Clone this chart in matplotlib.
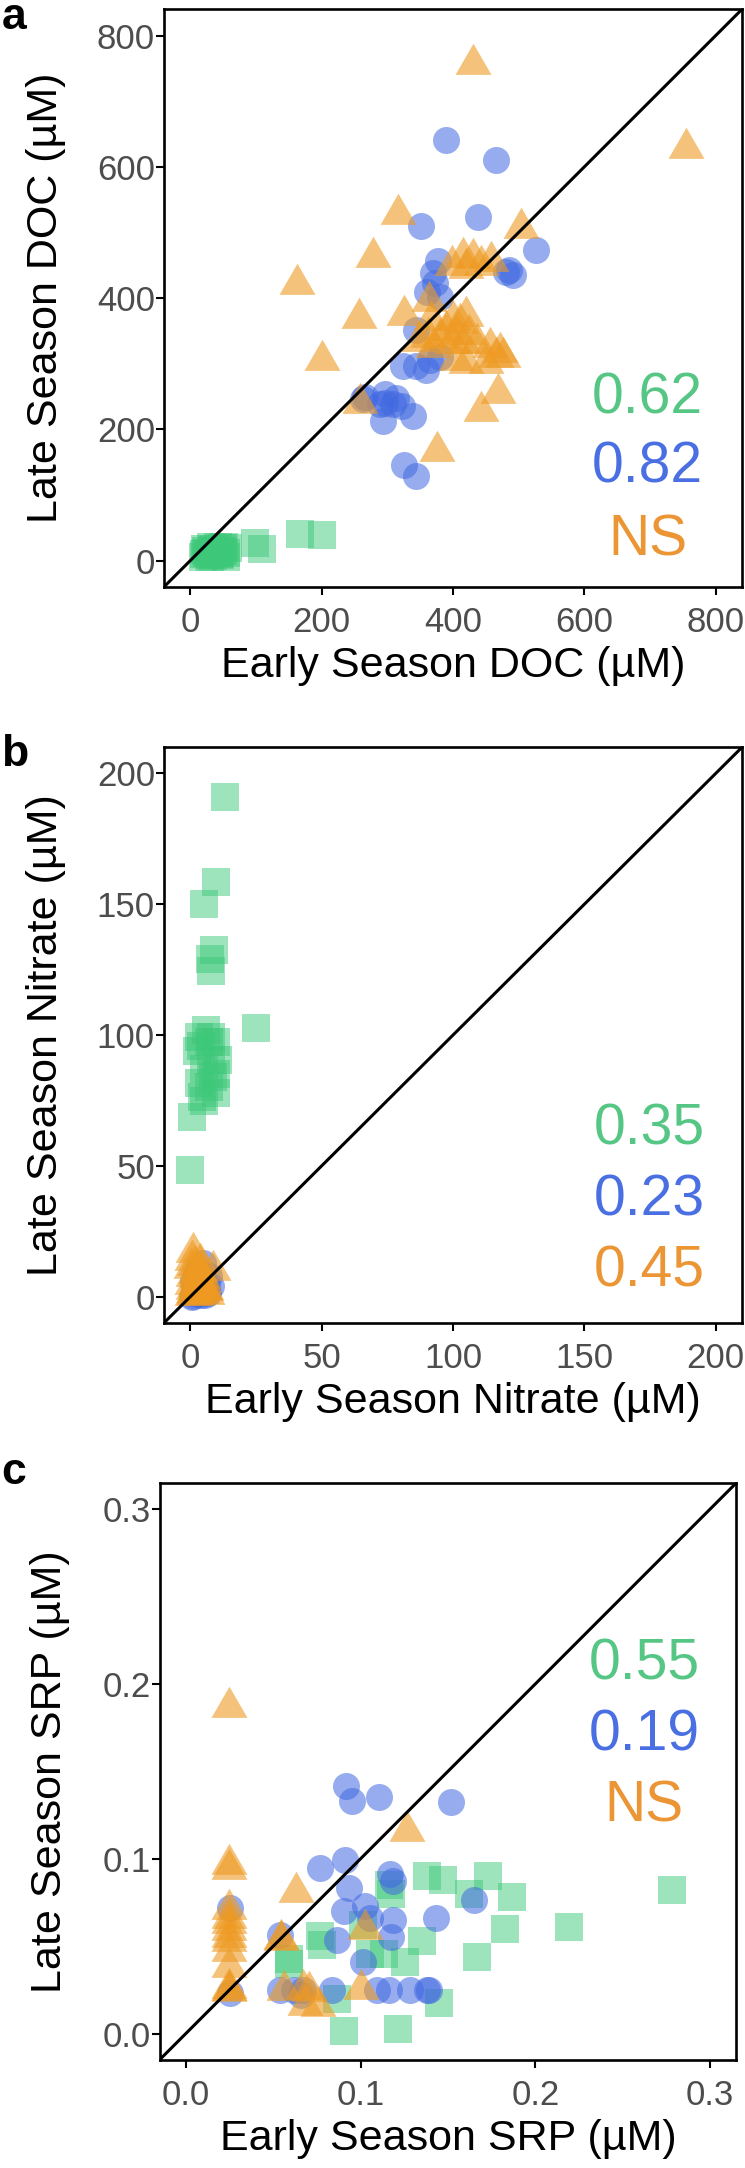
import matplotlib.pyplot as plt
from matplotlib.path import Path

plt.rcParams['font.family'] = ['Liberation Sans', 'DejaVu Sans']

# colours for the three groups
green = '#3CC878'
blue = '#4169E1'
orange = '#EE9A22'
text_green = '#55C683'
text_blue = '#4A6FE3'
text_orange = '#EB9534'

# Panel a: DOC (uM)
doc_green_early = [20, 24, 28, 33, 38, 42, 46, 50, 55, 57, 22, 30, 36, 44, 52, 26, 34, 40, 48, 54, 21, 31, 45,
                   99, 110, 167, 200]
doc_green_late = [6, 14, 9, 18, 12, 20, 8, 15, 11, 19, 17, 5, 16, 10, 21, 12, 7, 14, 19, 6, 10, 20, 13,
                  27, 17, 40, 39]
doc_blue_early = [352, 438, 526, 486, 491, 481, 377, 370, 372, 360, 380, 344, 324, 344, 365, 380, 359, 390, 466,
                  263, 297, 309, 323, 339, 294, 325, 344, 289, 266, 296, 314]
doc_blue_late = [510, 524, 473, 443, 435, 440, 456, 438, 423, 410, 402, 352, 296, 296, 306, 311, 290, 641, 610,
                 246, 254, 239, 235, 221, 213, 146, 129, 239, 250, 240, 248]
doc_orange_early = [430, 755, 317, 504, 278, 163, 257, 201, 468, 442, 375, 258, 415, 430, 398, 443, 420, 458,
                    364, 326, 367, 400, 410, 420, 390, 405, 425, 380, 398, 415, 436, 456, 471, 476, 466, 420,
                    362, 349, 370, 405, 451]
doc_orange_late = [756, 629, 528, 507, 463, 421, 370, 305, 255, 228, 167, 240, 463, 461, 451, 451, 446, 456,
                   395, 374, 367, 367, 362, 372, 352, 346, 346, 339, 331, 331, 331, 326, 318, 311, 311, 301,
                   341, 334, 326, 306, 301]

# Panel b: nitrate (uM)
no3_green_early = [13.4, 9.8, 5.3, 8.9, 8.0, 7.5, 24.9, 0.0, 0.7, 4.5, 3.4, 7.1, 9.8, 2.5, 8.0, 5.3, 9.8, 3.4,
                   7.1, 9.8, 5.3, 8.0, 10.7, 6.0, 4.0, 8.5]
no3_green_late = [191, 158.6, 150, 132.4, 124.6, 129, 102.7, 48.6, 68.7, 76.5, 99.2, 97.5, 97.5, 94, 90.5, 87,
                  85, 81.6, 80, 78, 74.7, 99.2, 90.5, 102, 96, 84]
no3_blue_early = [1.1, 6.8, 8.0, 6.0, 2.0, 4.0, 3.0, 5.0, 1.0, 7.0, 0.5, 2.5, 4.5, 6.5, 3.5, 1.5, 4.9, 5.5, 2.0, 3.0]
no3_blue_late = [0.3, 1.6, 4.0, 3.0, 1.0, 0.5, 5.0, 2.0, 6.0, 8.0, 0.0, 3.0, 1.5, 4.5, 7.0, 2.5, 13.0, 0.8, 9.0, 10.0]
no3_orange_early = [1.1, 8.8, 3.6, 0.5, 1.5, 2.5, 3.5, 4.5, 5.5, 0.8, 2.0, 3.0, 4.0, 5.0, 6.0, 1.2, 2.2, 3.2,
                    0.3, 1.8, 2.8, 4.2, 0.6, 1.4, 2.6, 5.2, 3.8, 6.5, 0.9]
no3_orange_late = [17.2, 10.2, 13.0, 0.5, 1.0, 0.8, 2.0, 1.5, 3.0, 5.0, 4.0, 6.0, 3.5, 7.0, 2.5, 8.0, 9.0, 10.0,
                   11.0, 12.0, 6.5, 4.5, 14.0, 2.0, 7.5, 5.5, 9.5, 1.2, 3.0]

# Panel c: SRP (uM)
srp_green_early = [0.2785, 0.2194, 0.1867, 0.1731, 0.1623, 0.1474, 0.1378, 0.1827, 0.1666, 0.1351, 0.1176,
                   0.1162, 0.1257, 0.1447, 0.1217, 0.0904, 0.0863, 0.0768, 0.0782, 0.0592, 0.0592, 0.1013,
                   0.1052, 0.1134]
srp_green_late = [0.0822, 0.0610, 0.0783, 0.0902, 0.0796, 0.0876, 0.0902, 0.0597, 0.0440, 0.0532, 0.0796,
                  0.0849, 0.0412, 0.0173, 0.0026, 0.0013, 0.0199, 0.0559, 0.0505, 0.0399, 0.0426, 0.0621,
                  0.0453, 0.0453]
srp_blue_early = [0.0918, 0.0951, 0.1107, 0.1519, 0.0912, 0.0768, 0.1170, 0.1184, 0.0932, 0.1026, 0.0904,
                  0.1052, 0.1184, 0.1433, 0.1650, 0.1176, 0.0863, 0.0538, 0.1015, 0.0253, 0.0253, 0.0538,
                  0.0619, 0.0673, 0.0836, 0.1094, 0.1162, 0.1284, 0.1379, 0.1392, 0.0660]
srp_blue_late = [0.1419, 0.1331, 0.1352, 0.1326, 0.0995, 0.0950, 0.0915, 0.0875, 0.0830, 0.0729, 0.0703,
                 0.0663, 0.0650, 0.0663, 0.0763, 0.0553, 0.0537, 0.0564, 0.0412, 0.0717, 0.0235, 0.0248,
                 0.0248, 0.0248, 0.0248, 0.0248, 0.0248, 0.0248, 0.0248, 0.0248, 0.0221]
srp_orange_early = [0.025, 0.025, 0.025, 0.025, 0.025, 0.025, 0.025, 0.025, 0.025, 0.025, 0.025, 0.025,
                    0.025, 0.025, 0.063, 0.1265, 0.1024, 0.0544, 0.100, 0.0672, 0.056, 0.068, 0.0707,
                    0.0545, 0.0755]
srp_orange_late = [0.187, 0.097, 0.094, 0.071, 0.066, 0.059, 0.053, 0.047, 0.038, 0.0245, 0.025, 0.026,
                   0.063, 0.055, 0.081, 0.116, 0.060, 0.0535, 0.0257, 0.0257, 0.025, 0.0164, 0.0245,
                   0.054, 0.0157]

stats_a = ['0.62', '0.82', 'NS']
stats_b = ['0.35', '0.23', '0.45']
stats_c = ['0.55', '0.19', 'NS']

# equilateral triangle centred on its centroid (like R pch 17)
tri = Path([(0, 1), (-0.866, -0.5), (0.866, -0.5), (0, 1)],
           [Path.MOVETO, Path.LINETO, Path.LINETO, Path.CLOSEPOLY])

fig = plt.figure(figsize=(7.45, 21.68), dpi=100)

panels = [
    ([0.2201, 0.7293, 0.7758, 0.2664], (-40, 840), [0, 200, 400, 600, 800], None,
     (doc_green_early, doc_green_late), (doc_blue_early, doc_blue_late), (doc_orange_early, doc_orange_late),
     'Early Season DOC (µM)', 'Late Season DOC (µM)', stats_a, [0.301, 0.180, 0.054], 0.8365, -0.1696,
     'a', 0.98685),
    ([0.2201, 0.3898, 0.7758, 0.2655], (-10, 210), [0, 50, 100, 150, 200], None,
     (no3_green_early, no3_green_late), (no3_blue_early, no3_blue_late), (no3_orange_early, no3_orange_late),
     'Early Season Nitrate (µM)', 'Late Season Nitrate (µM)', stats_b, [0.3098, 0.186, 0.0626], 0.840, -0.1696,
     'b', 0.6467),
    ([0.2142, 0.0499, 0.7741, 0.2661], (-0.015, 0.315), [0.0, 0.1, 0.2, 0.3], ['0.0', '0.1', '0.2', '0.3'],
     (srp_green_early, srp_green_late), (srp_blue_early, srp_blue_late), (srp_orange_early, srp_orange_late),
     'Early Season SRP (µM)', 'Late Season SRP (µM)', stats_c, [0.660, 0.537, 0.413], 0.840, -0.155,
     'c', 0.3155),
]

for (rect, lim, ticks, ticklabels, g, b, o, xlab, ylab, stats, ys, xs, ylx, letter, ly) in panels:
    ax = fig.add_axes(rect)
    ax.scatter(g[0], g[1], marker='s', s=378, color=green, alpha=0.5, linewidths=0)
    ax.scatter(b[0], b[1], marker='o', s=378, color=blue, alpha=0.55, linewidths=0)
    ax.scatter(o[0], o[1], marker=tri, s=895, color=orange, alpha=0.6, linewidths=0)
    ax.axline((0, 0), slope=1, color='black', lw=2.2, zorder=3)
    ax.set_xlim(lim)
    ax.set_ylim(lim)
    ax.set_xticks(ticks)
    ax.set_yticks(ticks)
    if ticklabels:
        ax.set_xticklabels(ticklabels)
        ax.set_yticklabels(ticklabels)
    for sp in ax.spines.values():
        sp.set_linewidth(1.9)
    ax.tick_params(axis='both', length=5.5, width=1.5, labelsize=25, labelcolor='#4D4D4D')
    ax.tick_params(axis='x', pad=8)
    ax.tick_params(axis='y', pad=1)
    ax.set_xlabel(xlab, fontsize=31)
    ax.set_ylabel(ylab, fontsize=31)
    ax.xaxis.set_label_coords(0.5, -0.103)
    ax.yaxis.set_label_coords(ylx, 0.5)
    for txt, yy, c in zip(stats, ys, [text_green, text_blue, text_orange]):
        ax.text(xs, yy, txt, transform=ax.transAxes, ha='center', va='baseline',
                fontsize=41, color=c, zorder=5)
    fig.text(0.002, ly, letter, fontsize=32, fontweight='bold', ha='left', va='baseline')

fig.savefig('out.png', dpi=100)
